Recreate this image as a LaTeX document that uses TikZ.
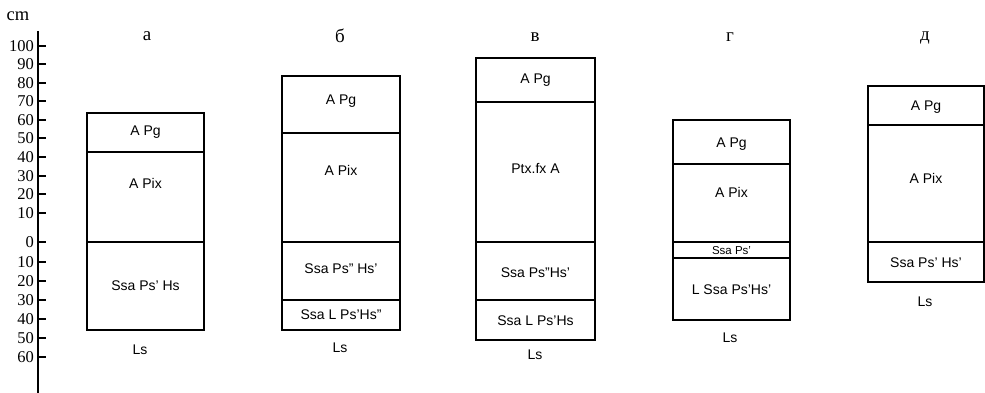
\documentclass[tikz,border=0pt]{standalone}
\usepackage{fontspec}
\setmainfont{Liberation Serif}
\setsansfont{Liberation Sans}
\begin{document}
\begin{tikzpicture}[x=1pt,y=-1pt,
  frame/.style={line width=1.8pt},
  layer/.style={line width=1.3pt},
  zero/.style={line width=2.6pt},
  hz/.style={font=\sffamily\fontsize{14}{14}\selectfont, inner sep=0pt},
  hzsmall/.style={font=\sffamily\fontsize{11.5}{11.5}\selectfont, inner sep=0pt},
  rock/.style={font=\sffamily\fontsize{14}{14}\selectfont, inner sep=0pt},
  axlab/.style={font=\fontsize{16.5}{16.5}\selectfont, anchor=east, inner sep=0pt},
  colhead/.style={font=\fontsize{19}{19}\selectfont, inner sep=0pt}]
\useasboundingbox (0,0) rectangle (985,393);

% depth scale
\draw[line width=2.2pt] (38,31) -- (38,393);
\node[font=\fontsize{18.5}{18.5}\selectfont, inner sep=0pt] (unit) at (18,16) {cm};
\foreach \v/\y [count=\i] in {100/46,90/64,80/83,70/101,60/120,50/138,40/157,30/176,20/194,10/213,0/242,10/262,20/281,30/300,40/319,50/338,60/357}{
  \draw[line width=1.4pt] (38,\y) -- (46,\y);
  \node[axlab] (tick\i) at (34,\y) {\v};
}

% column headings
\node[colhead] (ha) at (147,36) {а};
\node[colhead] (hb) at (340,36) {б};
\node[colhead] (hv) at (535,37) {в};
\node[colhead] (hg) at (730,37) {г};
\node[colhead] (hd) at (925,38) {д};

% profile a
\draw[layer] (87,152) -- (204,152);
\draw[zero] (87,242) -- (204,242);
\draw[frame] (87,113) rectangle (204,330);
\node[hz] (a1) at (145.5,132) {A Pg};
\node[hz] (a2) at (145.5,183) {A Pix};
\node[hz] (a3) at (145.5,286) {Ssa Ps' Hs};
\node[rock] (a4) at (140,350) {Ls};

% profile b
\draw[layer] (282,133) -- (400,133);
\draw[zero] (282,242) -- (400,242);
\draw[layer] (282,300) -- (400,300);
\draw[frame] (282,76) rectangle (400,330);
\node[hz] (b1) at (341,101) {A Pg};
\node[hz] (b2) at (341,170) {A Pix};
\node[hz] (b3) at (341,269) {Ssa Ps'' Hs'};
\node[hz] (b4) at (341,315) {Ssa L Ps'Hs''};
\node[rock] (b5) at (340,348) {Ls};

% profile v
\draw[layer] (476,102) -- (595,102);
\draw[zero] (476,242) -- (595,242);
\draw[layer] (476,300) -- (595,300);
\draw[frame] (476,58) rectangle (595,340);
\node[hz] (v1) at (535.5,80) {A Pg};
\node[hz] (v2) at (535.5,168) {Ptx.fx A};
\node[hz] (v3) at (535.5,273) {Ssa Ps''Hs'};
\node[hz] (v4) at (535.5,321) {Ssa L Ps'Hs};
\node[rock] (v5) at (535,355) {Ls};

% profile g
\draw[layer] (673,164) -- (790,164);
\draw[zero] (673,242) -- (790,242);
\draw[layer] (673,258) -- (790,258);
\draw[frame] (673,120) rectangle (790,320);
\node[hz] (g1) at (731.5,144) {A Pg};
\node[hz] (g2) at (731.5,192) {A Pix};
\node[hzsmall] (g3) at (731.5,251) {Ssa Ps'};
\node[hz] (g4) at (731.5,290) {L Ssa Ps'Hs'};
\node[rock] (g5) at (730,338) {Ls};

% profile d
\draw[layer] (868,125) -- (984,125);
\draw[zero] (868,242) -- (984,242);
\draw[frame] (868,86) rectangle (984,282);
\node[hz] (d1) at (926,107) {A Pg};
\node[hz] (d2) at (926,178) {A Pix};
\node[hz] (d3) at (926,263) {Ssa Ps' Hs'};
\node[rock] (d4) at (925,302) {Ls};
\end{tikzpicture}
\end{document}
